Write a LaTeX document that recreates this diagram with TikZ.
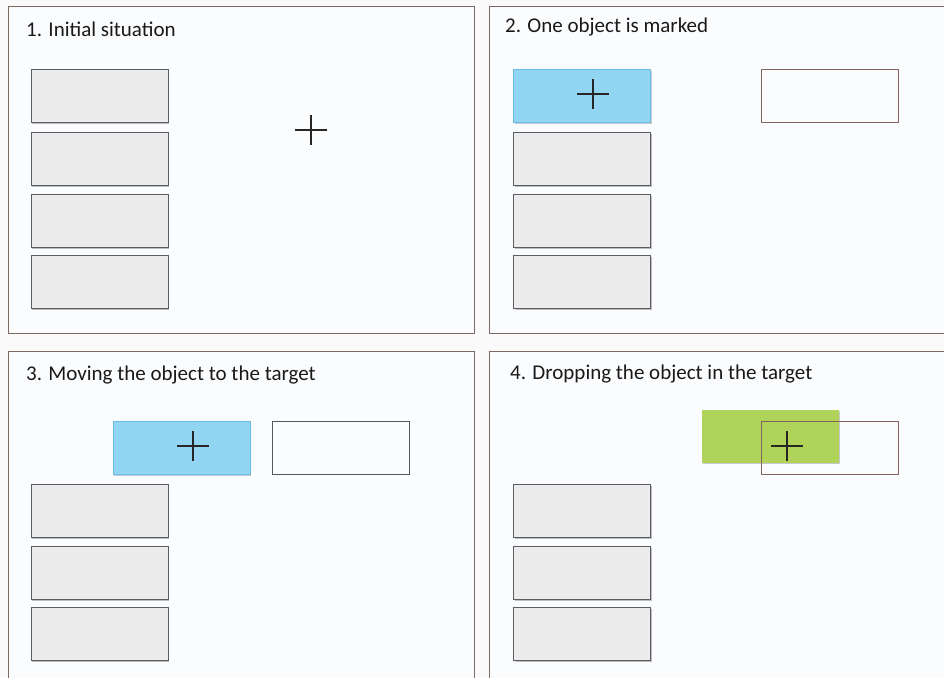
\documentclass[tikz,border=0pt]{standalone}
\usepackage{fontspec}
\setmainfont{Carlito}
\usetikzlibrary{shadows}
\definecolor{pagebg}{RGB}{250,250,250}
\definecolor{panelbg}{RGB}{251,252,254}
\definecolor{panelline}{RGB}{128,104,98}
\definecolor{boxfill}{RGB}{236,236,236}
\definecolor{boxline}{RGB}{90,94,98}
\definecolor{bluefill}{RGB}{146,213,242}
\definecolor{blueline}{RGB}{108,192,232}
\definecolor{greenfill}{RGB}{176,211,90}
\definecolor{targetline}{RGB}{130,100,92}
\definecolor{targetdark}{RGB}{80,88,96}
\begin{document}
\begin{tikzpicture}[x=1pt,y=-1pt,
  panel/.style={draw=panelline, fill=panelbg, line width=0.8pt},
  title/.style={anchor=west, inner sep=0pt, font=\fontsize{21}{24}\selectfont, text=black!90},
  obj/.style={minimum width=137pt, minimum height=53pt, inner sep=0pt, outer sep=0pt},
  grayobj/.style={obj, draw=boxline, fill=boxfill, line width=1pt,
     drop shadow={shadow xshift=1pt, shadow yshift=-1.5pt, opacity=0.25, fill=black}},
  blueobj/.style={obj, draw=blueline, fill=bluefill, line width=0.8pt,
     drop shadow={shadow xshift=1pt, shadow yshift=-1.5pt, opacity=0.2, fill=black}},
  greenobj/.style={obj, fill=greenfill,
     drop shadow={shadow xshift=1pt, shadow yshift=-1.5pt, opacity=0.2, fill=black}},
  targetobj/.style={obj, draw=targetline, line width=1pt},
  crossmark/.style={minimum width=32pt, minimum height=30pt, inner sep=0pt,
     path picture={\draw[line width=1.5pt, black!85]
       (path picture bounding box.north) -- (path picture bounding box.south)
       (path picture bounding box.west) -- (path picture bounding box.east);}}
]
\useasboundingbox (0,0) rectangle (944,677);
\clip (0,0) rectangle (944,677);
\fill[pagebg] (0,0) rectangle (944,677);

% panels
\draw[panel] (8,6) rectangle (474,333);
\draw[panel] (489,6) rectangle (952,333);
\draw[panel] (8,351) rectangle (474,690);
\draw[panel] (489,351) rectangle (952,690);

% titles
\node[title] (t1) at (26,29) {1. Initial situation};
\node[title] (t2) at (505,27) {2. One object is marked};
\node[title] (t3) at (26,375) {3. Moving the object to the target};
\node[title] (t4) at (510,374) {4. Dropping the object in the target};

% panel 1
\node[grayobj] (p1a) at (99.5,95.5) {};
\node[grayobj] (p1b) at (99.5,159) {};
\node[grayobj] (p1c) at (99.5,220.5) {};
\node[grayobj] (p1d) at (99.5,282) {};
\node[crossmark] (x1) at (311,130) {};

% panel 2
\node[blueobj] (p2a) at (582,95.5) {};
\node[grayobj] (p2b) at (582,159) {};
\node[grayobj] (p2c) at (582,220.5) {};
\node[grayobj] (p2d) at (582,282) {};
\node[targetobj] (g2) at (829.5,95.5) {};
\node[crossmark] (x2) at (593,94) {};

% panel 3
\node[blueobj] (p3a) at (181.5,448) {};
\node[targetobj, draw=targetdark] (g3) at (340.5,448) {};
\node[grayobj] (p3b) at (99.5,511) {};
\node[grayobj] (p3c) at (99.5,573) {};
\node[grayobj] (p3d) at (99.5,634) {};
\node[crossmark] (x3) at (193,446) {};

% panel 4
\node[greenobj] (p4a) at (770.5,436) {};
\node[targetobj] (g4) at (829.5,448) {};
\node[grayobj] (p4b) at (582,511) {};
\node[grayobj] (p4c) at (582,573) {};
\node[grayobj] (p4d) at (582,634) {};
\node[crossmark] (x4) at (787,446) {};
\end{tikzpicture}
\end{document}
